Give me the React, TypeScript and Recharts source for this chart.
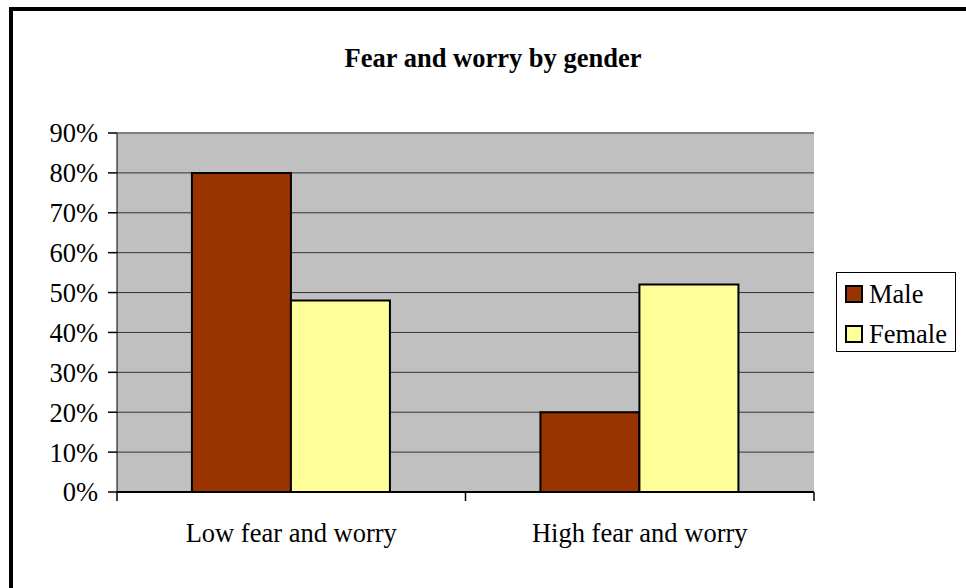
import {
  BarChart,
  Bar,
  XAxis,
  YAxis,
  CartesianGrid,
  ReferenceLine,
} from "recharts";

const categories = ["Low fear and worry", "High fear and worry"];
const male = [0.8, 0.2];
const female = [0.48, 0.52];
const yTicks = [0, 0.1, 0.2, 0.3, 0.4, 0.5, 0.6, 0.7, 0.8, 0.9];

const SERIES = [
  { key: "male", name: "Male", color: "#993300" },
  { key: "female", name: "Female", color: "#FFFF99" },
];

const FONT = '"Liberation Serif", "Times New Roman", serif';
const FS = 26.5;

const data = categories.map((c, i) => ({ cat: c, male: male[i], female: female[i] }));

// category label plus the tick marks at the category boundaries
function CatTick(props: any) {
  const { x, y, payload, index, visibleTicksCount } = props;
  const half = payload.offset ?? 0;
  const last = index === visibleTicksCount - 1;
  return (
    <g>
      <line x1={x - half} x2={x - half} y1={y - 31} y2={y - 22} stroke="#000" strokeWidth={1.5} />
      {last && (
        <line x1={x + half} x2={x + half} y1={y - 31} y2={y - 22} stroke="#000" strokeWidth={1.5} />
      )}
      <text x={x} y={y} dy="0.71em" textAnchor="middle" fill="#000" fontSize={FS} fontFamily={FONT}>
        {payload.value}
      </text>
    </g>
  );
}

export default function App() {
  return (
    <div
      style={{
        position: "fixed",
        left: 0,
        top: 0,
        width: 966,
        height: 588,
        overflow: "hidden",
        background: "#fff",
        fontFamily: FONT,
      }}
    >
      <div
        style={{
          position: "absolute",
          left: 9,
          top: 7,
          width: 1200,
          height: 800,
          borderTop: "4px solid #000",
          borderLeft: "4px solid #000",
        }}
      />
      <div
        style={{
          position: "absolute",
          left: 293,
          width: 400,
          top: 45,
          textAlign: "center",
          fontSize: FS,
          lineHeight: 1,
          fontWeight: "bold",
          whiteSpace: "nowrap",
        }}
      >
        Fear and worry by gender
      </div>
      <div style={{ position: "absolute", left: 0, top: 0 }}>
        <BarChart
          width={966}
          height={588}
          data={data}
          margin={{ top: 133, right: 152, bottom: 0, left: 0 }}
          barCategoryGap="21.5%"
          barGap={0}
        >
          <CartesianGrid fill="#C0C0C0" stroke="#333" vertical={false} />
          <XAxis
            dataKey="cat"
            height={96}
            tickSize={0}
            tickMargin={31}
            interval={0}
            axisLine={{ stroke: "#000", strokeWidth: 2 }}
            tickLine={false}
            tick={<CatTick />}
          />
          <YAxis
            width={117}
            domain={[0, 0.9]}
            ticks={yTicks}
            interval={0}
            tickFormatter={(v: number) => `${Math.round(v * 100)}%`}
            tickSize={9}
            tickMargin={10}
            axisLine={{ stroke: "#000" }}
            tickLine={{ stroke: "#000", strokeWidth: 1.5 }}
            tick={{ fill: "#000", fontSize: FS, fontFamily: FONT }}
          />
          <YAxis
            yAxisId="r"
            orientation="right"
            width={0}
            domain={[0, 0.9]}
            tick={false}
            tickLine={false}
            axisLine={{ stroke: "#808080", strokeWidth: 2 }}
          />
          <ReferenceLine y={0.9} stroke="#808080" strokeWidth={2} />
          {SERIES.map((s) => (
            <Bar
              key={s.key}
              dataKey={s.key}
              name={s.name}
              fill={s.color}
              stroke="#000"
              strokeWidth={2}
              isAnimationActive={false}
            />
          ))}
        </BarChart>
      </div>
      <div
        style={{
          position: "absolute",
          left: 836,
          top: 272,
          width: 118,
          height: 78,
          border: "1px solid #000",
          background: "#fff",
        }}
      >
        {SERIES.map((s, i) => (
          <div
            key={s.key}
            style={{
              position: "absolute",
              left: 8,
              top: 8 + i * 40,
              height: 26,
              display: "flex",
              alignItems: "center",
              fontSize: FS,
              lineHeight: 1,
              whiteSpace: "nowrap",
            }}
          >
            <span
              style={{
                display: "inline-block",
                width: 14,
                height: 14,
                border: "2px solid #000",
                background: s.color,
                marginRight: 6,
              }}
            />
            {s.name}
          </div>
        ))}
      </div>
    </div>
  );
}
